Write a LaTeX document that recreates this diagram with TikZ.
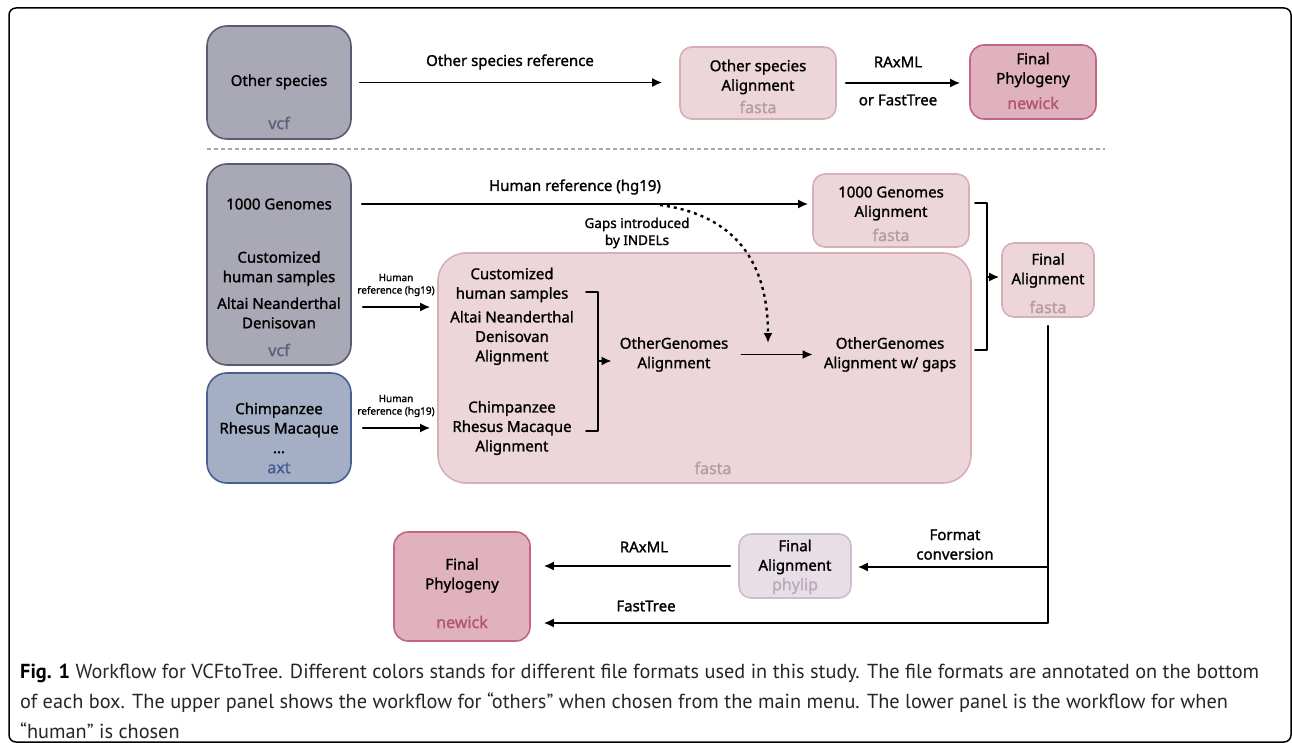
\documentclass[tikz,border=0pt]{standalone}
\usepackage{fontspec}
\setmainfont{Noto Sans}[BoldFont={Noto Sans},BoldFeatures={FakeBold=1.4}]
\newfontfamily\capfont{PT Sans}
\usetikzlibrary{arrows.meta}
\definecolor{vcffill}{HTML}{A9A8B5}\definecolor{vcfline}{HTML}{5A5A73}\definecolor{vcftxt}{HTML}{5F5F7A}
\definecolor{axtfill}{HTML}{A4AFC5}\definecolor{axtline}{HTML}{465F91}\definecolor{axttxt}{HTML}{4B5A96}
\definecolor{fastafill}{HTML}{ECD6DA}\definecolor{fastaline}{HTML}{D7AFB7}\definecolor{fastatxt}{HTML}{B99BA2}
\definecolor{newickfill}{HTML}{E0B2BE}\definecolor{newickline}{HTML}{C36482}\definecolor{newicktxt}{HTML}{B45578}
\definecolor{phylipfill}{HTML}{E8DEE6}\definecolor{phylipline}{HTML}{CDBECD}\definecolor{phyliptxt}{HTML}{B9AAB9}
\begin{document}
\begin{tikzpicture}[x=1pt,y=-1pt,line cap=round,line join=round,font=\fontsize{15}{19.5}\selectfont\bfseries]
\tikzset{
  box/.style={draw=#1line,fill=#1fill,line width=1.6pt,inner sep=0pt},
  txt/.style={align=center,inner sep=0pt},
  fmt/.style={inner sep=0pt,text=#1txt,font=\fontsize{16}{19.5}\selectfont\bfseries},
  small/.style={align=center,inner sep=0pt,font=\fontsize{10}{12.5}\selectfont\bfseries},
  ln/.style={line width=1.8pt},
  arr/.style={line width=1.8pt,-{Latex[length=10pt,width=9pt]}},
  dotarr/.style={line width=2.4pt,line cap=butt,dash pattern=on 3pt off 4pt,-{Latex[length=10pt,width=9pt]}}
}
\useasboundingbox (0,0) rectangle (1292,743);
\draw[line width=1.5pt,rounded corners=7pt] (9,8) rectangle (1291,742);
% boxes
\foreach \n/\x/\y/\w/\h/\r/\c in {oth/279/82.5/144/113/20/vcf, othaln/758/83/156/72/12/fasta,
    phya/1033/82/126/74/14/newick, hum/279/264.5/144/201/20/vcf, axt/279/428/144/110/20/axt,
    kgaln/891/210.5/156/73/12/fasta, big/704.5/368/533/230/28/fasta, fin/1048/280/92/74/12/fasta,
    phyb/462/586.5/136/109/14/newick, phyl/795/566/112/64/12/phylip}
  \node[box=\c,rounded corners=\r pt,minimum width=\w pt,minimum height=\h pt] (\n) at (\x,\y) {};
\draw[gray!70,line width=1.5pt,line cap=butt,dash pattern=on 4pt off 3pt] (207,149) -- (1105,149);
% upper panel
\node[txt] (othname) at (279,82) {Other species};
\node[fmt=vcf] (othfmt) at (279,123) {vcf};
\node[txt] (othref) at (510,62) {Other species reference};
\node[txt] (othalnname) at (758,77) {Other species\\Alignment};
\node[fmt=fasta] (othalnfmt) at (758,107) {fasta};
\node[txt] (raxa) at (898,62) {RAxML};
\node[txt] (fta) at (898,100) {or FastTree};
\node[txt] (phyaname) at (1033,70) {Final\\Phylogeny};
\node[fmt=newick] (phyafmt) at (1033,103) {newick};
\draw[arr,shorten <=8pt,shorten >=17pt] (oth.east) -- (othaln.west |- oth.east);
\draw[arr,shorten <=9pt,shorten >=9pt] (othaln.east) -- (phya.west |- othaln.east);
% lower panel, inputs
\node[txt] (hkg) at (279,204) {1000 Genomes};
\node[txt] (hcust) at (279,268.5) {Customized\\human samples};
\node[txt] (halt) at (279,313) {Altai Neanderthal\\Denisovan};
\node[fmt=vcf] (humfmt) at (279,350) {vcf};
\node[txt] (chimp) at (279,428) {Chimpanzee\\Rhesus Macaque\\...};
\node[fmt=axt] (axtfmt) at (279,468) {axt};
\node[txt] (hgref) at (575,187) {Human reference (hg19)};
\node[small] (hra) at (396,285) {Human\\reference (hg19)};
\node[small] (hrb) at (396,406) {Human\\reference (hg19)};
\draw[arr,shorten <=10pt,shorten >=4pt] (hkg -| hum.east) -- (hkg -| kgaln.west);
\draw[arr,shorten <=11pt,shorten >=7pt] (hum.east |- 0,307) -- (big.west |- 0,307);
\draw[arr,shorten <=11pt,shorten >=7pt] (axt.east) -- (big.west |- axt.east);
% alignments
\node[txt] (kgname) at (891,203.5) {1000 Genomes\\Alignment};
\node[fmt=fasta] (kgfmt) at (891,235) {fasta};
\node[txt] (acust) at (512,285) {Customized\\human samples};
\node[txt] (aalt) at (512,338) {Altai Neanderthal\\Denisovan\\Alignment};
\node[txt] (achimp) at (512,428) {Chimpanzee\\Rhesus Macaque\\Alignment};
\node[txt] (og) at (674,354.5) {OtherGenomes\\Alignment};
\node[txt] (ogw) at (890,354.5) {OtherGenomes\\Alignment w/ gaps};
\node[fmt=fasta] (bigfmt) at (713,468) {fasta};
\node[txt,font=\fontsize{13.5}{17}\selectfont\bfseries] (gaps) at (637,233) {Gaps introduced\\by INDELs};
\node[txt] (finname) at (1048,270.5) {Final\\Alignment};
\node[fmt=fasta] (finfmt) at (1048,307) {fasta};
\draw[ln] (586,292) -| (598,431) -- (586,431);
\coordinate (brl) at (598,361);
\draw[arr,shorten >=8pt] (brl) -- (og.west |- brl);
\draw[arr,shorten <=13pt,shorten >=11pt] (og.east) -- (ogw.west);
\coordinate (gs) at (660,205);
\coordinate (gd) at (768,343);
\draw[dotarr] (gs) .. controls (735,215) and (768,262) .. (gd);
\draw[ln] (975,203) -| (987,350) -- (975,350);
\coordinate (brr) at (987,277);
\draw[arr,shorten >=2pt] (brr) -- (fin.west |- brr);
% conversion and trees
\node[txt] (phylname) at (795,557) {Final\\Alignment};
\node[fmt=phylip] (phylfmt) at (795,586) {phylip};
\node[txt] (phybname) at (462,575.5) {Final\\Phylogeny};
\node[fmt=newick] (phybfmt) at (462,622) {newick};
\node[txt] (raxb) at (644,547) {RAxML};
\node[txt] (ftb) at (646,606) {FastTree};
\node[txt] (conv) at (955,544.5) {Format\\conversion};
\coordinate (fc) at (fin.south |- 0,567);
\draw[arr,shorten >=13pt] ([yshift=-8pt]fin.south) |- (phyb.east |- 0,623);
\draw[arr,shorten >=6pt] (fc) -- (phyl.east |- fc);
\draw[arr,shorten <=8pt,shorten >=13pt] (phyl.west) -- (phyb.east |- phyl.west);
% caption
\node[anchor=west,align=left,inner sep=0pt,text=black!85,
  font=\capfont\fontsize{20.3}{30}\selectfont] (cap) at (20,701)
  {{\bfseries\color{black}Fig. 1} Workflow for VCFtoTree. Different colors stands for different file formats used in this study. The file formats are annotated on the bottom\\
   of each box. The upper panel shows the workflow for “others” when chosen from the main menu. The lower panel is the workflow for when\\
   “human” is chosen};
\end{tikzpicture}
\end{document}
